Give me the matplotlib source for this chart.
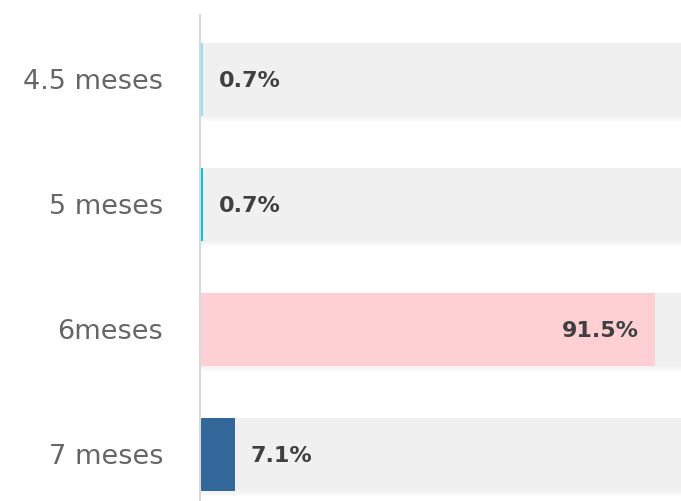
import matplotlib
matplotlib.use("Agg")
import matplotlib.pyplot as plt

categories = ["4.5 meses", "5 meses", "6meses", "7 meses"]
values = [0.7, 0.7, 91.5, 7.1]
value_labels = ["0.7%", "0.7%", "91.5%", "7.1%"]
colors = ["#8fe0fa", "#00c5e0", "#ffd0d3", "#336699"]
track_max = 100

W, H = 681, 501
fig = plt.figure(figsize=(W / 100, H / 100), dpi=100)
fig.patch.set_facecolor("white")
ax = fig.add_axes([200 / W, 0, 497 / W, 486 / H])
ax.set_xlim(0, track_max)
ax.set_ylim(3.376, -0.516)

ypos = list(range(len(categories)))
bh = 0.584

# background tracks
ax.barh(ypos, [track_max] * len(ypos), height=bh, color="#f0f0f0", zorder=1)
# soft shadow under tracks
px = 1 / 125
for k in range(6):
    ax.barh([y + bh / 2 + (k + 0.5) * px for y in ypos], [track_max] * len(ypos),
            height=px, color="black", alpha=0.05 * (1 - k / 6), zorder=1, linewidth=0)
# value bars
ax.barh(ypos, values, height=bh, color=colors, zorder=2)

for y, v, lab in zip(ypos, values, value_labels):
    inside = v > 50
    ax.annotate(lab, (v, y), xytext=(-16 if inside else 15, 0), textcoords="offset pixels",
                ha="right" if inside else "left", va="center_baseline",
                fontsize=16, fontweight="bold",
                family="DejaVu Sans", color="#404040", zorder=3)

ax.set_yticks(ypos)
ax.set_yticklabels(categories, fontsize=19.5, color="#666666", family="DejaVu Sans")
for t in ax.get_yticklabels():
    t.set_verticalalignment("center_baseline")
ax.tick_params(axis="y", length=0, pad=26.5)
ax.set_xticks([])
for s in ["top", "right", "bottom"]:
    ax.spines[s].set_visible(False)
ax.spines["left"].set_color("#d9d9d9")
ax.spines["left"].set_linewidth(1.5)
ax.set_facecolor("white")

fig.savefig("out.png", dpi=100)
